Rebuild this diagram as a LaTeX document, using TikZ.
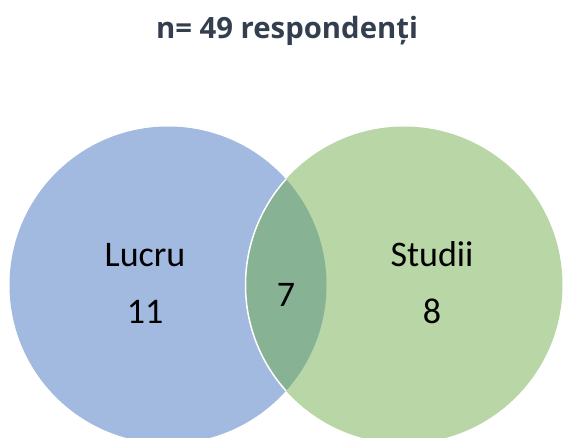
\documentclass[tikz,border=0pt]{standalone}
\usepackage{fontspec}
\setmainfont{Carlito}
\newfontfamily\titlefont{Open Sans}
\definecolor{lucrublue}{HTML}{A2B9E0}
\definecolor{studiigreen}{HTML}{B8D6A6}
\definecolor{bothgreen}{HTML}{87B294}
\definecolor{titlegray}{HTML}{333F4F}
\tikzset{
  >=latex,
  setlabel/.style={anchor=base,font=\fontsize{36}{40}\selectfont},
  titlelabel/.style={anchor=base,text=titlegray,
    font=\titlefont\bfseries\fontsize{29.3}{33}\selectfont}
}

\begin{document}
\begin{tikzpicture}[x=1pt,y=1pt]
      \useasboundingbox (0,0) rectangle (563,437);
      \coordinate (lucru) at (168,152);
      \coordinate (studii) at (404,152);
      \fill[lucrublue] (lucru) circle (158.5);
      \fill[studiigreen] (studii) circle (158.5);
      \begin{scope}
      \clip (lucru) circle (158.5);
      \fill[bothgreen] (studii) circle (158.5);
      \draw[white,line width=1.5pt] (studii) circle (158.5);
      \end{scope}
      \node[titlelabel] (title) at (287,398) {n= 49 respondenți};
      \node[setlabel] (lucrutext) at (145,170) {Lucru};
      \node[setlabel] (lucrunum) at (145,113) {11};
      \node[setlabel] (studiitext) at (432,170) {Studii};
      \node[setlabel] (studiinum) at (432,113) {8};
      \node[setlabel] (bothnum) at (286,130) {7};
    \end{tikzpicture}
\end{document}
